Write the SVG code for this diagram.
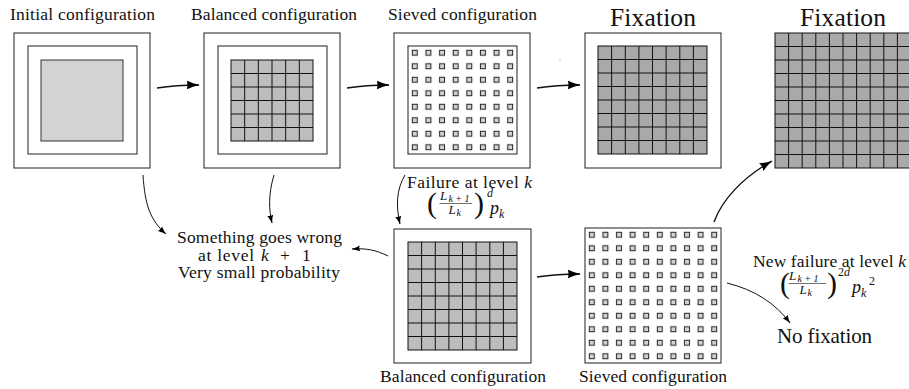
<svg xmlns="http://www.w3.org/2000/svg" width="909" height="389" viewBox="0 0 909 389">
<style>
  .lbl{font-family:"Liberation Serif","Times New Roman",serif;font-size:17.5px;fill:#111}
  .big{font-family:"Liberation Serif","Times New Roman",serif;font-size:25.5px;fill:#111}
  .it{font-style:italic}
  .m{font-family:"Liberation Serif","Times New Roman",serif;fill:#111}
  .box{fill:#fff;stroke:#333;stroke-width:1.1}
  .grid{fill:none;stroke:#111;stroke-width:1}
  .conn{fill:none;stroke:#111}
  .thick{stroke-width:1.4}
  .thin{stroke-width:1}
</style>
<defs>
  <marker id="ah" markerUnits="userSpaceOnUse" markerWidth="14" markerHeight="10" refX="12.5" refY="5" orient="auto">
    <path d="M0,0.5 Q6,3.5 13,5 Q6,6.5 0,9.5 Q2,5 0,0.5 Z" fill="#000"/>
  </marker>
  <marker id="as" markerUnits="userSpaceOnUse" markerWidth="9" markerHeight="7" refX="8" refY="3.5" orient="auto">
    <path d="M0,0.5 Q4,2.5 8.5,3.5 Q4,4.5 0,6.5 Q1.5,3.5 0,0.5 Z" fill="#000"/>
  </marker>
  <pattern id="sieve8" patternUnits="userSpaceOnUse" x="408" y="46" width="13.625" height="13.5">
    <rect x="4.3" y="4.25" width="5" height="5" fill="#d2d2d2" stroke="#222" stroke-width="1"/>
  </pattern>
  <pattern id="sieve10" patternUnits="userSpaceOnUse" x="585" y="228" width="13.6" height="13.5">
    <rect x="4.3" y="4.25" width="5" height="5" fill="#d2d2d2" stroke="#222" stroke-width="1"/>
  </pattern>
</defs>

<g id="initial">
  <text class="lbl" x="10" y="20" textLength="145" lengthAdjust="spacing">Initial configuration</text>
  <rect class="box" x="14" y="33" width="136" height="135"/>
  <rect class="box" x="28" y="46" width="109" height="108"/>
  <rect x="41" y="60" width="82" height="81" fill="#d3d3d3" stroke="#333" stroke-width="1"/>
</g>

<g id="balanced1">
  <text class="lbl" x="191" y="20" textLength="166" lengthAdjust="spacing">Balanced configuration</text>
  <rect class="box" x="204" y="33" width="136" height="135"/>
  <rect class="box" x="218" y="46" width="109" height="108"/>
  <rect x="231" y="60" width="82" height="81" fill="#bdbdbd" stroke="#111" stroke-width="1"/>
  <path class="grid" d="M244.67,60V141M258.33,60V141M272,60V141M285.67,60V141M299.33,60V141M231,73.5H313M231,87H313M231,100.5H313M231,114H313M231,127.5H313"/>
</g>

<g id="sieved1">
  <text class="lbl" x="388" y="20" textLength="149" lengthAdjust="spacing">Sieved configuration</text>
  <rect class="box" x="394" y="33" width="136" height="135"/>
  <rect class="box" x="408" y="46" width="109" height="108"/>
  <rect x="408" y="46" width="109" height="108" fill="url(#sieve8)"/>
  <circle cx="560" cy="60" r="0.6" fill="#777"/>
</g>

<g id="fixation1">
  <text class="big" x="610" y="26" textLength="86" lengthAdjust="spacing">Fixation</text>
  <rect class="box" x="585" y="33" width="136" height="135"/>
  <rect x="598" y="46" width="109" height="108" fill="#a9a9a9" stroke="#111" stroke-width="1"/>
  <path class="grid" d="M611.6,46V154M625.3,46V154M638.9,46V154M652.5,46V154M666.1,46V154M679.8,46V154M693.4,46V154M598,59.5H707M598,73H707M598,86.5H707M598,100H707M598,113.5H707M598,127H707M598,140.5H707"/>
</g>

<g id="fixation2">
  <text class="big" x="800" y="26" textLength="86" lengthAdjust="spacing">Fixation</text>
  <rect x="775" y="33" width="136" height="135" fill="#a9a9a9" stroke="#111" stroke-width="1"/>
  <path class="grid" d="M788.6,33V168M802.2,33V168M815.8,33V168M829.4,33V168M843,33V168M856.6,33V168M870.2,33V168M883.8,33V168M897.4,33V168M775,46.5H911M775,60H911M775,73.5H911M775,87H911M775,100.5H911M775,114H911M775,127.5H911M775,141H911M775,154.5H911"/>
</g>

<g id="wrong">
  <text class="lbl" x="259.5" y="243" text-anchor="middle" textLength="165" lengthAdjust="spacing">Something goes wrong</text>
  <text class="lbl" y="261"><tspan x="198" textLength="56" lengthAdjust="spacing">at level</tspan><tspan x="261" class="it">k</tspan><tspan x="280">+</tspan><tspan x="302">1</tspan></text>
  <text class="lbl" x="259" y="278" text-anchor="middle" textLength="162" lengthAdjust="spacing">Very small probability</text>
</g>

<g id="failure1">
  <text class="lbl" x="407" y="188" textLength="125" lengthAdjust="spacing">Failure at level <tspan class="it">k</tspan></text>
  <text class="m" x="427" y="213" font-size="30">(</text>
  <text class="m it" x="440" y="200" font-size="13">L</text>
  <text class="m it" x="448.5" y="202" font-size="10" textLength="21" lengthAdjust="spacing">k+1</text>
  <line x1="439.5" y1="203.5" x2="472" y2="203.5" stroke="#111" stroke-width="0.6"/>
  <text class="m it" x="448.5" y="213.5" font-size="13">L</text>
  <text class="m it" x="456.5" y="216" font-size="10">k</text>
  <text class="m" x="474" y="213" font-size="30">)</text>
  <text class="m it" x="487" y="196.5" font-size="12">d</text>
  <text class="m it" x="490" y="214" font-size="18">p</text>
  <text class="m it" x="499" y="218" font-size="12">k</text>
</g>

<g id="balanced2">
  <rect class="box" x="394" y="229" width="137" height="134"/>
  <rect x="408" y="242" width="109" height="108" fill="#bdbdbd" stroke="#111" stroke-width="1"/>
  <path class="grid" d="M421.6,242V350M435.3,242V350M448.9,242V350M462.5,242V350M476.1,242V350M489.8,242V350M503.4,242V350M408,255.5H517M408,269H517M408,282.5H517M408,296H517M408,309.5H517M408,323H517M408,336.5H517"/>
  <text class="lbl" x="380" y="382" textLength="166" lengthAdjust="spacing">Balanced configuration</text>
</g>

<g id="sieved2">
  <rect class="box" x="585" y="228" width="136" height="135"/>
  <rect x="585" y="228" width="136" height="135" fill="url(#sieve10)"/>
  <text class="lbl" x="579" y="382" textLength="148" lengthAdjust="spacing">Sieved configuration</text>
</g>

<g id="failure2">
  <text class="lbl" x="753" y="267" textLength="153" lengthAdjust="spacing">New failure at level <tspan class="it">k</tspan></text>
  <text class="m" x="780" y="293" font-size="30">(</text>
  <text class="m it" x="789" y="280" font-size="13">L</text>
  <text class="m it" x="797.5" y="282" font-size="10" textLength="21" lengthAdjust="spacing">k+1</text>
  <line x1="788.5" y1="283.5" x2="826" y2="283.5" stroke="#111" stroke-width="0.6"/>
  <text class="m it" x="799.5" y="293.5" font-size="13">L</text>
  <text class="m it" x="807.5" y="296" font-size="10">k</text>
  <text class="m" x="827" y="293" font-size="30">)</text>
  <text class="m" x="838" y="275.5" font-size="12">2<tspan class="it">d</tspan></text>
  <text class="m it" x="852" y="293" font-size="18">p</text>
  <text class="m it" x="861" y="297" font-size="12">k</text>
  <text class="m" x="869" y="285" font-size="12">2</text>
</g>

<g id="nofix">
  <text class="lbl" x="777" y="343" style="font-size:21px" textLength="95" lengthAdjust="spacing">No fixation</text>
</g>

<g id="connectors">
  <path class="conn thick" d="M157,88 C170,86 182,85 199,85" marker-end="url(#ah)"/>
  <path class="conn thick" d="M347,88 C360,86 372,85 389,85" marker-end="url(#ah)"/>
  <path class="conn thick" d="M537,88 C550,86 562,85 580,85" marker-end="url(#ah)"/>
  <path class="conn thick" d="M537,277 C550,275 562,274 580,274" marker-end="url(#ah)"/>
  <path class="conn thick" d="M714,222 C722,200 742,178 772,161" marker-end="url(#ah)"/>
  <path class="conn thin" d="M143,175 C145,205 150,220 166,234" marker-end="url(#as)"/>
  <path class="conn thin" d="M274,175 C268,195 269,210 272,223" marker-end="url(#as)"/>
  <path class="conn thin" d="M405,175 C396,190 396,207 400,224" marker-end="url(#as)"/>
  <path class="conn thin" d="M388,256 C376,250 366,248 352,249" marker-end="url(#as)"/>
  <path class="conn thin" d="M727,283 C755,290 775,303 790,323" marker-end="url(#as)"/>
</g>
</svg>
